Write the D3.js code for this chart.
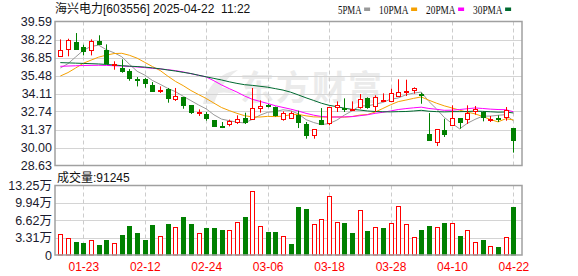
<!DOCTYPE html>
<html>
<head>
<meta charset="utf-8">
<script src="https://cdn.jsdelivr.net/npm/d3@7"></script>
<style>
  body { margin: 0; background: #fff; }
  text { font-family: "Liberation Sans", "Noto Sans CJK SC", sans-serif; }
</style>
</head>
<body>
<script>
//chart data
var dates = ["01-20","01-21","01-22","01-23","01-24","01-27","02-05","02-06","02-07","02-10",
    "02-11","02-12","02-13","02-14","02-17","02-18","02-19","02-20","02-21","02-24",
    "02-25","02-26","02-27","02-28","03-03","03-04","03-05","03-06","03-07","03-10",
    "03-11","03-12","03-13","03-14","03-17","03-18","03-19","03-20","03-21","03-24",
    "03-25","03-26","03-27","03-28","03-31","04-01","04-02","04-03","04-07","04-08",
    "04-09","04-10","04-11","04-14","04-15","04-16","04-17","04-18","04-21","04-22"];

var opens = [36.94,37.47,38.03,37.65,37.39,38.10,37.39,36.25,36.05,35.80,
    35.24,35.21,34.76,34.30,34.43,33.72,33.82,33.21,32.66,32.55,
    32.09,31.64,31.76,31.94,32.24,32.19,33.00,33.23,33.06,32.19,
    32.27,32.50,31.79,30.92,32.12,31.84,33.06,33.00,32.88,33.08,
    33.74,33.16,33.51,33.51,33.92,34.20,34.35,34.07,31.00,30.39,
    31.33,31.66,32.22,32.14,32.75,32.68,32.14,32.27,32.37,31.48];

var highs = [38.23,38.28,38.71,37.82,38.23,38.54,37.85,36.56,36.71,35.97,
    35.36,35.29,34.98,34.65,34.53,34.53,33.82,33.21,32.90,32.70,
    32.09,31.94,32.12,32.45,32.65,34.53,33.59,33.31,33.11,32.75,
    32.75,32.80,31.94,31.38,33.00,33.06,33.51,33.74,33.51,34.07,
    33.82,33.97,34.12,34.48,35.19,35.16,34.58,34.17,32.62,31.38,
    32.19,33.21,32.22,33.21,33.16,32.75,32.40,32.45,33.08,31.48];

var lows = [36.94,36.94,37.44,37.01,37.01,37.88,36.33,35.92,35.69,35.08,
    34.65,34.55,34.32,34.15,33.41,33.54,32.95,32.55,32.40,32.04,
    31.58,31.48,31.61,31.79,31.79,32.14,32.65,33.05,32.35,32.04,
    32.19,31.48,30.67,30.67,31.81,31.69,32.70,32.70,32.80,32.95,
    32.95,32.70,33.46,33.46,33.84,33.92,34.10,33.33,30.52,30.11,
    30.80,31.64,31.43,31.79,32.50,31.99,31.94,31.94,32.04,29.61];

var closes = [37.39,38.15,37.52,37.32,38.08,37.90,36.38,36.35,35.82,35.24,
    35.19,34.93,34.32,34.35,33.72,33.92,33.21,32.65,32.68,32.24,
    31.66,31.58,32.02,32.17,31.94,33.00,33.16,33.13,32.45,32.62,
    32.65,31.94,30.92,31.38,31.81,33.06,33.21,32.90,32.95,33.72,
    33.08,33.82,33.59,34.15,34.20,34.27,34.50,33.99,30.52,31.38,
    31.05,32.22,31.91,32.62,32.90,32.32,32.19,32.22,32.88,30.54];

//volume in 万 (10k shares)
var volumes = [3.95,3.19,2.49,2.29,2.80,1.91,2.87,2.23,3.82,5.54,
    4.21,2.87,5.74,3.57,5.93,5.29,7.27,5.93,4.14,5.16,
    5.16,4.78,4.72,6.25,7.27,12.17,5.48,4.40,4.40,3.57,
    2.10,9.18,8.80,5.86,6.82,11.22,6.25,6.12,4.21,8.54,
    4.59,5.29,5.16,6.06,9.31,5.86,3.38,4.78,5.54,5.29,
    6.12,6.12,3.63,4.72,2.49,2.87,1.66,1.53,3.38,9.1245];

//1 = up (red bar), 0 = down (green bar)
var volUp = [1,1,0,0,1,0,0,1,0,0, 0,0,0,1,0,1,0,0,1,0, 0,0,1,1,0,1,1,0,0,1,
    0,0,0,1,1,1,1,0,0,1, 0,1,0,1,1,1,1,0,0,1, 0,1,0,1,1,0,1,0,1,0];

var ma5 = [36.05,36.38,36.89,37.40,37.69,37.79,37.44,37.21,36.91,36.34,
    35.80,35.51,35.10,34.81,34.50,34.25,33.90,33.57,33.24,32.94,
    32.49,32.16,32.04,31.93,31.87,32.14,32.46,32.68,32.74,32.87,
    32.80,32.56,32.12,31.90,31.74,31.82,32.08,32.47,32.79,33.17,
    33.17,33.29,33.43,33.67,33.77,34.01,34.14,34.22,33.50,32.93,
    32.29,31.83,31.42,31.84,32.14,32.39,32.39,32.45,32.50,32.03];

var ma10 = [35.44,35.70,36.05,36.41,36.65,36.88,37.03,37.15,37.17,37.02,
    36.80,36.48,36.16,35.86,35.43,35.03,34.71,34.34,34.03,33.73,
    33.38,33.04,32.81,32.60,32.42,32.33,32.32,32.37,32.35,32.39,
    32.49,32.52,32.41,32.33,32.32,32.32,32.33,32.31,32.36,32.47,
    32.51,32.70,32.97,33.25,33.49,33.61,33.74,33.85,33.60,33.37,
    33.17,33.01,32.84,32.69,32.56,32.36,32.13,31.95,32.19,32.10];

var ma20 = [36.18,36.20,36.22,36.24,36.25,36.26,36.25,36.22,36.20,36.17,
    36.13,36.08,36.03,35.98,35.92,35.85,35.75,35.62,35.50,35.37,
    35.08,34.76,34.48,34.22,33.92,33.67,33.51,33.35,33.18,33.05,
    32.92,32.77,32.60,32.46,32.36,32.32,32.32,32.33,32.35,32.42,
    32.49,32.60,32.68,32.78,32.89,32.96,33.02,33.07,32.97,32.91,
    32.83,32.84,32.89,32.95,33.01,32.97,32.92,32.89,32.88,32.72];

var ma30 = [36.46,36.44,36.42,36.40,36.38,36.36,36.32,36.28,36.23,36.19,
    36.16,36.12,36.06,35.99,35.90,35.82,35.72,35.63,35.50,35.38,
    35.26,35.14,35.00,34.88,34.78,34.73,34.66,34.59,34.48,34.37,
    34.21,34.00,33.78,33.58,33.37,33.21,33.11,32.99,32.90,32.85,
    32.78,32.74,32.72,32.71,32.73,32.74,32.78,32.83,32.76,32.73,
    32.71,32.73,32.73,32.74,32.77,32.75,32.72,32.69,32.70,32.63];

var priceTicks = [39.59,38.22,36.85,35.48,34.11,32.74,31.37,30.00,28.63];
var volTicks = [0,3.31,6.62,9.94,13.25];
var dateTicks = ["01-23","02-12","02-24","03-06","03-18","03-28","04-10","04-22"];
var maNames = ["5PMA","10PMA","20PMA","30PMA"];
var maColors = ["#999999","#f5a000","#ff00ff","#006a30"];

window.onload = setChart;

function setChart(){

    var width = 578,
        height = 276;

    var left = 55, right = 522,
        priceTop = 21.5, priceBottom = 165.5,
        volTop = 185.5, volBottom = 255;

    var red = "#ff0000", green = "#008000";

    var svg = d3.select("body")
        .append("svg")
        .attr("width", width)
        .attr("height", height);

    var x = d3.scalePoint()
        .domain(dates)
        .range([60.3, 513.4]);

    var y = d3.scaleLinear()
        .domain([28.63, 39.59])
        .range([priceBottom, priceTop]);

    var yVol = d3.scaleLinear()
        .domain([0, 13.25])
        .range([volBottom, volTop]);

    //pixel column of each candle, so 1px strokes stay crisp
    function cx(d){ return Math.round(x(d)); }

    //title and legend
    svg.append("text")
        .attr("x", 55)
        .attr("y", 13)
        .style("font-size", "12px")
        .style("white-space", "pre")
        .attr("fill", "#111")
        .text("海兴电力[603556] 2025-04-22  11:22");

    //legend glyphs are narrow, squeeze them to about 5.9px a char
    var lx = 338;
    maNames.forEach(function(name, i){
        var len = name.length * 5.9;
        svg.append("text")
            .attr("x", lx)
            .attr("y", 13.5)
            .attr("textLength", len)
            .attr("lengthAdjust", "spacingAndGlyphs")
            .style("font-family", "'Liberation Serif', serif")
            .style("font-size", "12.5px")
            .attr("fill", "#111")
            .text(name);
        svg.append("rect")
            .attr("x", lx + len + 2.5)
            .attr("y", 7.5)
            .attr("width", 6)
            .attr("height", 3.5)
            .attr("fill", maColors[i]);
        lx += len + 17.5;
    });

    //watermark
    var wm = svg.append("g").attr("fill", "#ebebeb");
    wm.append("path")
        .attr("d", "M203,104 C208,84 222,72 238,70 C226,78 218,90 214,104 Z M212,88 C222,86 230,88 236,94 C228,92 220,92 212,94 Z");
    wm.append("text")
        .attr("x", 240)
        .attr("y", 100)
        .style("font-family", "'Noto Sans CJK SC', sans-serif")
        .style("font-size", "34px")
        .style("font-weight", "bold")
        .style("letter-spacing", "2px")
        .text("东方财富");

    //grid lines
    var grid = svg.append("g");
    grid.selectAll(".hgrid")
        .data(priceTicks.slice(1, -1))
        .enter()
        .append("line")
        .attr("x1", left).attr("x2", right)
        .attr("y1", function(d){ return Math.round(y(d)) + 0.5; })
        .attr("y2", function(d){ return Math.round(y(d)) + 0.5; })
        .attr("stroke", "#d4d4d4");
    grid.selectAll(".vhgrid")
        .data(volTicks.slice(1, -1))
        .enter()
        .append("line")
        .attr("x1", left).attr("x2", right)
        .attr("y1", function(d){ return Math.round(yVol(d)) + 0.5; })
        .attr("y2", function(d){ return Math.round(yVol(d)) + 0.5; })
        .attr("stroke", "#d4d4d4");
    [[priceTop, priceBottom], [volTop, volBottom]].forEach(function(r){
        grid.selectAll(null)
            .data(dateTicks)
            .enter()
            .append("line")
            .attr("x1", function(d){ return cx(d) + 0.5; })
            .attr("x2", function(d){ return cx(d) + 0.5; })
            .attr("y1", r[0]).attr("y2", r[1])
            .attr("stroke", "#cccccc")
            .attr("stroke-dasharray", "4,3");
    });

    //moving average lines
    var mas = [ma5, ma10, ma20, ma30];
    mas.forEach(function(vals, i){
        var line = d3.line()
            .x(function(d, j){ return x(dates[j]); })
            .y(function(d){ return y(d); });
        svg.append("path")
            .datum(vals)
            .attr("d", line)
            .attr("fill", "none")
            .attr("stroke", maColors[i])
            .attr("stroke-width", 1);
    });

    //candles
    var candles = svg.selectAll(".candle")
        .data(dates)
        .enter()
        .append("g")
        .attr("class", "candle");

    candles.append("line")
        .attr("x1", function(d){ return cx(d) + 0.5; })
        .attr("x2", function(d){ return cx(d) + 0.5; })
        .attr("y1", function(d, i){ return y(highs[i]); })
        .attr("y2", function(d, i){ return y(lows[i]); })
        .attr("stroke", function(d, i){ return closes[i] >= opens[i] ? red : green; })
        .attr("stroke-width", 1);

    candles.append("rect")
        .attr("x", function(d){ return cx(d) - 1.5; })
        .attr("y", function(d, i){ return Math.round(y(Math.max(opens[i], closes[i]))) + 0.5; })
        .attr("width", 4)
        .attr("height", function(d, i){
            return Math.max(1, Math.round(Math.abs(y(opens[i]) - y(closes[i]))));
        })
        .attr("fill", function(d, i){ return closes[i] >= opens[i] ? "#fff" : green; })
        .attr("stroke", function(d, i){ return closes[i] >= opens[i] ? red : green; })
        .attr("stroke-width", 1);

    //volume bars
    svg.selectAll(".vol")
        .data(dates)
        .enter()
        .append("rect")
        .attr("class", "vol")
        .attr("x", function(d){ return cx(d) - 1.5; })
        .attr("y", function(d, i){ return Math.round(yVol(volumes[i])) + 0.5; })
        .attr("width", 4)
        .attr("height", function(d, i){ return volBottom - Math.round(yVol(volumes[i])) - 0.5; })
        .attr("fill", function(d, i){ return volUp[i] ? "#fff" : green; })
        .attr("stroke", function(d, i){ return volUp[i] ? red : green; })
        .attr("stroke-width", 1);

    //panel borders
    svg.append("rect")
        .attr("x", left).attr("y", priceTop)
        .attr("width", right - left).attr("height", priceBottom - priceTop)
        .attr("fill", "none").attr("stroke", "#a0a0a0").attr("stroke-width", 1.5);
    svg.append("rect")
        .attr("x", left).attr("y", volTop)
        .attr("width", right - left).attr("height", volBottom - volTop)
        .attr("fill", "none").attr("stroke", "#a0a0a0").attr("stroke-width", 1.5);

    //axes
    var priceAxis = d3.axisLeft(y)
        .tickValues(priceTicks)
        .tickSize(0)
        .tickPadding(3)
        .tickFormat(d3.format(".2f"));
    var pa = svg.append("g")
        .attr("transform", "translate(" + left + ",0)")
        .call(priceAxis);

    var volAxis = d3.axisLeft(yVol)
        .tickValues(volTicks)
        .tickSize(0)
        .tickPadding(3)
        .tickFormat(function(d){ return d === 0 ? "0" : d3.format(".2f")(d) + "万"; });
    var va = svg.append("g")
        .attr("transform", "translate(" + left + ",0)")
        .call(volAxis);

    var dateAxis = d3.axisBottom(x)
        .tickValues(dateTicks)
        .tickSize(0)
        .tickPadding(7);
    var da = svg.append("g")
        .attr("transform", "translate(0," + volBottom + ")")
        .call(dateAxis);

    [pa, va, da].forEach(function(g){
        g.select(".domain").remove();
        g.selectAll("text")
            .style("font-family", "'Liberation Sans', 'Noto Sans CJK SC', sans-serif")
            .style("font-size", "12.5px")
            .attr("fill", "#1a1a2e");
    });
    da.selectAll("text").attr("fill", red).style("font-size", "12px");

    //volume caption, latest bar
    svg.append("text")
        .attr("x", 57)
        .attr("y", 182)
        .style("font-size", "12px")
        .attr("fill", "#111")
        .text("成交量:" + Math.round(volumes[volumes.length - 1] * 10000));
};
</script>
</body>
</html>
